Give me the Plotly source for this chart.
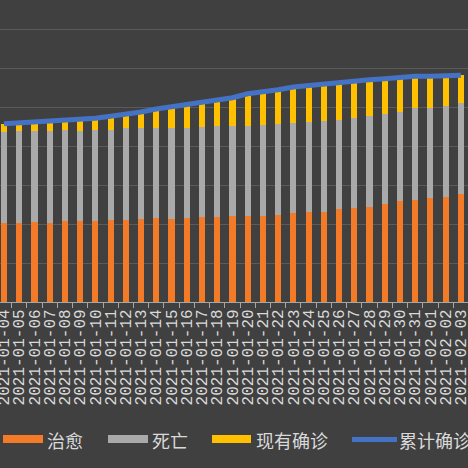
import plotly.graph_objects as go

# dates on the category axis
dates = [
    "2021-01-04", "2021-01-05", "2021-01-06", "2021-01-07", "2021-01-08",
    "2021-01-09", "2021-01-10", "2021-01-11", "2021-01-12", "2021-01-13",
    "2021-01-14", "2021-01-15", "2021-01-16", "2021-01-17", "2021-01-18",
    "2021-01-19", "2021-01-20", "2021-01-21", "2021-01-22", "2021-01-23",
    "2021-01-24", "2021-01-25", "2021-01-26", "2021-01-27", "2021-01-28",
    "2021-01-29", "2021-01-30", "2021-01-31", "2021-02-01", "2021-02-02",
    "2021-02-03",
]

# 治愈
cured = [
    40360, 40360, 41030, 40670, 41380, 41690, 41690, 42050, 42050, 42410,
    43080, 42720, 43080, 43440, 43440, 44100, 44100, 44100, 44620, 45490,
    46000, 46310, 47540, 48210, 48870, 50260, 51800, 52310, 53490, 54000,
    55380,
]

# 死亡
deaths = [
    46970, 47490, 46670, 47180, 46820, 46150, 46510, 46150, 47030, 46970,
    46310, 46670, 46310, 46460, 46820, 46150, 46150, 46670, 46670, 46150,
    46460, 46670, 45800, 46000, 46510, 46000, 45800, 47030, 45850, 46510,
    46510,
]

# 现有确诊
active = [
    4100, 3950, 4460, 4620, 4970, 5640, 6000, 7030, 7180, 8050,
    9590, 10620, 12000, 12670, 13490, 14510, 16560, 16920, 17590, 18620,
    18670, 18970, 19330, 19130, 18620, 18260, 17800, 16410, 16410, 15540,
    14360,
]

# 累计确诊
total = [
    91430, 91800, 92160, 92470, 93170, 93480, 94200, 95230, 96260, 97430,
    98980, 100010, 101390, 102570, 103750, 104760, 106810, 107690, 108880, 110260,
    111130, 111950, 112670, 113340, 114000, 114520, 115400, 115750, 115750, 116050,
    116250,
]

W, H = 468, 468
PLOT_BOTTOM = 302  # px from top where the x axis sits

ORANGE = "#F37A26"
GRAY = "#A9A9A9"
YELLOW = "#FFC000"
BLUE = "#4472C4"
TEXT = "#D9D9D9"


def px_x(px):
    return px / W


def px_y(py):
    return (PLOT_BOTTOM - py) / PLOT_BOTTOM


fig = go.Figure()
fig.add_trace(go.Bar(x=dates, y=cured, name="治愈", marker_color=ORANGE, marker_line_width=0))
fig.add_trace(go.Bar(x=dates, y=deaths, name="死亡", marker_color=GRAY, marker_line_width=0))
fig.add_trace(go.Bar(x=dates, y=active, name="现有确诊", marker_color=YELLOW, marker_line_width=0))
fig.add_trace(go.Scatter(x=dates, y=total, name="累计确诊", mode="lines",
                         line=dict(color=BLUE, width=5)))

fig.update_layout(
    width=W,
    height=H,
    barmode="stack",
    bargap=0.6,
    showlegend=False,
    paper_bgcolor="#404040",
    plot_bgcolor="#404040",
    margin=dict(l=0, r=0, t=0, b=H - PLOT_BOTTOM, pad=0, autoexpand=False),
    font=dict(family="Noto Sans CJK SC", color=TEXT),
)

fig.update_xaxes(
    type="category",
    automargin=False,
    range=[-4 / 15.23, (W - 4) / 15.23],
    tickmode="linear",
    dtick=1,
    tickangle=-90,
    tickson="boundaries",
    ticks="outside",
    ticklen=5,
    tickcolor="#A6A6A6",
    showline=True,
    linecolor="#A6A6A6",
    linewidth=1,
    showgrid=False,
    tickfont=dict(family="Liberation Mono", size=16, color=TEXT),
)

fig.update_yaxes(
    automargin=False,
    range=[0, PLOT_BOTTOM * 20000 / 39],
    dtick=20000,
    showticklabels=False,
    gridcolor="#5A5A5A",
    gridwidth=1,
    zeroline=False,
)

# hand-drawn legend, laid out like the original one
legend_items = [
    ("治愈", ORANGE, 3, 43, 46, 435, 443),
    ("死亡", GRAY, 108, 148, 151, 435, 443),
    ("现有确诊", YELLOW, 212, 251, 255, 435, 443),
    ("累计确诊", BLUE, 352, 397, 398, 437, 442),
]
for label, color, x0, x1, tx, y0, y1 in legend_items:
    fig.add_shape(type="rect", xref="paper", yref="paper",
                  x0=px_x(x0), x1=px_x(x1), y0=px_y(y1), y1=px_y(y0),
                  fillcolor=color, line_width=0)
    fig.add_annotation(text=label, xref="paper", yref="paper",
                       x=px_x(tx), y=px_y(440), xanchor="left", yanchor="middle",
                       showarrow=False, borderpad=0, font=dict(size=18, color=TEXT))

# the page body has a default 8px margin; drop it so the chart fills the window
fig.write_html(
    "out.html",
    config={"displayModeBar": False},
    post_script="document.body.style.margin='0';",
)
